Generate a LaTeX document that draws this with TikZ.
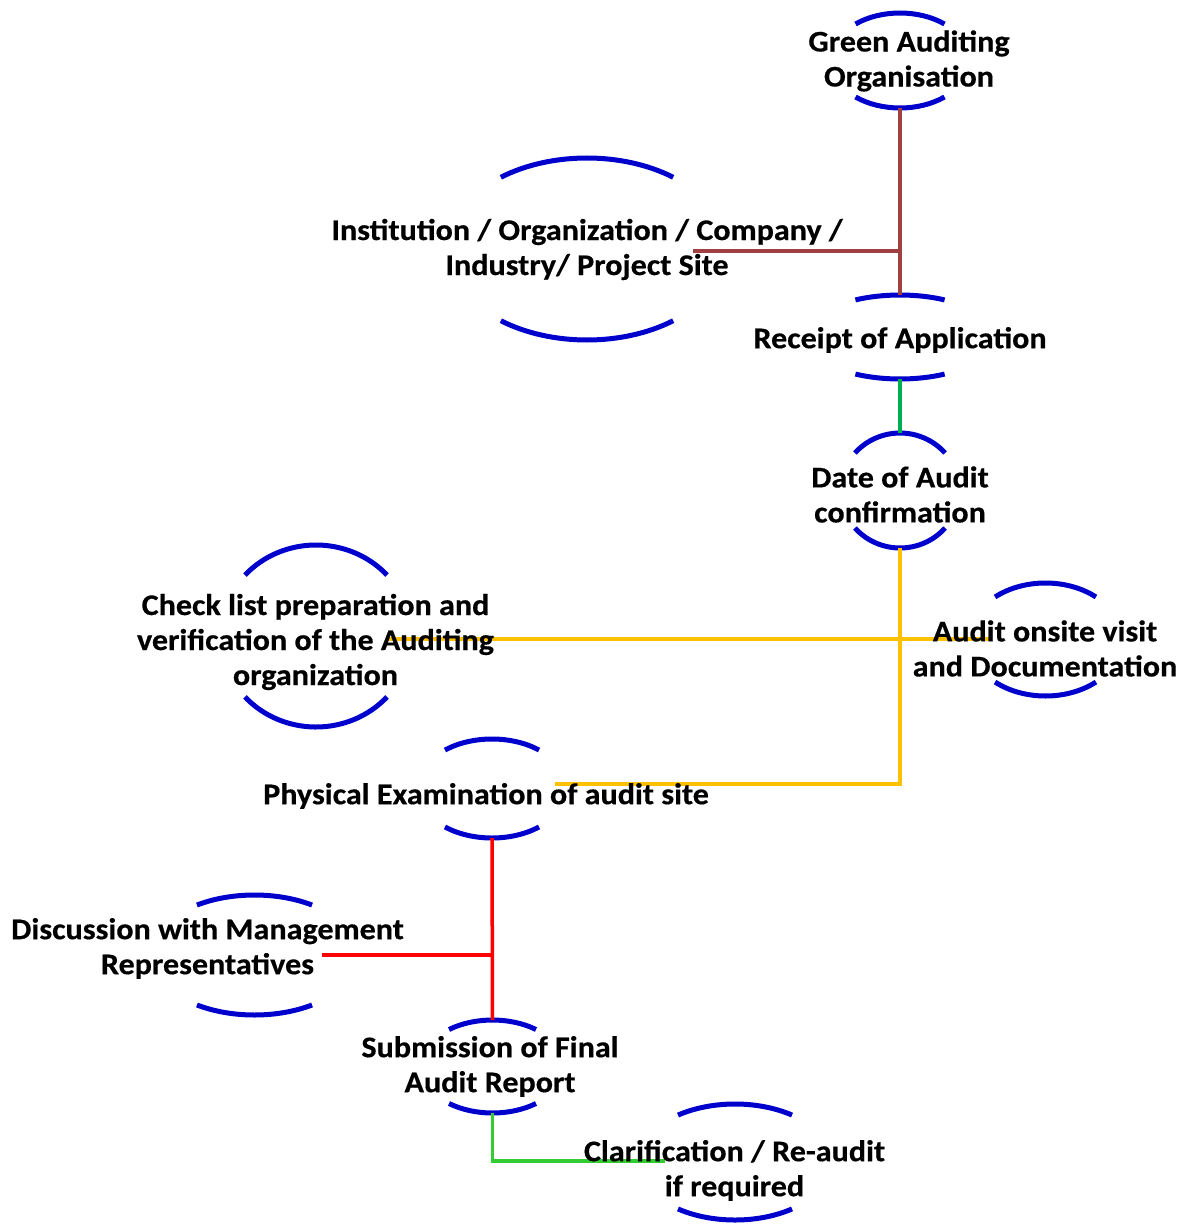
\documentclass[tikz,border=0pt]{standalone}
\usepackage{fontspec}
\setmainfont{Carlito}[FakeStretch=1.07, BoldFeatures={FakeBold=0.5}]
\usetikzlibrary{calc}
\definecolor{arcblue}{HTML}{0000CC}
\definecolor{cbrown}{HTML}{A04040}
\definecolor{cgreen}{HTML}{00B050}
\definecolor{corange}{HTML}{FFC000}
\definecolor{cred}{HTML}{FF0000}
\definecolor{clgreen}{HTML}{33CC33}
% #1 name, #2 x, #3 y, #4 x radius, #5 y radius, #6 arc half-angle from horizontal
\newcommand\ovl[6]{%
  \coordinate (#1c) at (#2,#3);
  \draw[arcst] (#1c) ++(#6:#4pt and #5pt) arc[start angle=#6, end angle=180-#6, x radius=#4pt, y radius=#5pt];
  \draw[arcst] (#1c) ++(-#6:#4pt and #5pt) arc[start angle=-#6, end angle=-180+#6, x radius=#4pt, y radius=#5pt];
  \path (#1c) ++(0pt,#5pt) coordinate (#1T);
  \path (#1c) ++(0pt,-#5pt) coordinate (#1B);
}
\begin{document}
\begin{tikzpicture}[x=1pt,y=-1pt,
  lbl/.style={font=\bfseries\fontsize{30}{35}\selectfont, align=center, inner sep=0pt},
  arcst/.style={draw=arcblue, line width=5pt},
  conn/.style={line width=3.5pt}]
\useasboundingbox (0,0) rectangle (1187,1225);
% arcs
\ovl{ga}{900}{60.5}{69.5}{47.5}{50.2}
\ovl{in}{587}{249}{140}{91}{52}
\ovl{ra}{900}{337}{95}{42}{62}
\ovl{da}{900}{490.5}{59.4}{57.5}{40.7}
\ovl{cl}{316}{636}{95.6}{91}{42}
\ovl{ao}{1045.5}{639.5}{76.6}{56.5}{48.8}
\ovl{pe}{492}{788.5}{74.7}{49.5}{51}
\ovl{dm}{254.5}{955}{104}{60}{56.4}
\ovl{sf}{492.5}{1066.5}{71.8}{46.5}{52.7}
\ovl{cr}{735}{1162}{97}{58}{54}
% connector free ends
\coordinate (inR) at (693,251);
\coordinate (clR) at (387,639);
\coordinate (aoL) at (990,639);
\coordinate (peR) at (555,784);
\coordinate (dmR) at (322,955);
\coordinate (crL) at (665,1161);
% connectors
\draw[conn, cbrown] (gaB) -- (raT);
\draw[conn, cbrown] (inR) -- (inR -| gaB);
\draw[conn, cgreen] (raB) -- (daT);
\draw[conn, corange] (daB) |- (peR);
\draw[conn, corange] (clR) -- (aoL);
\draw[conn, cred] (peB) -- (sfT);
\draw[conn, cred] (dmR) -- (dmR -| peB);
\draw[conn, clgreen] (sfB) |- (crL);
% labels
\node[lbl] (ga) at (909,61) {Green Auditing\\Organisation};
\node[lbl] (in) at (587,249.5) {Institution / Organization / Company /\\Industry/ Project Site};
\node[lbl] (ra) at (900,340) {Receipt of Application};
\node[lbl] (da) at (900,494.5) {Date of Audit\\confirmation};
\node[lbl] (cl) at (315.5,642) {Check list preparation and\\verification of the Auditing\\organization};
\node[lbl] (ao) at (1045,648.5) {Audit onsite visit\\and Documentation};
\node[lbl] (pe) at (486,796) {Physical Examination of audit site};
\node[lbl] (dm) at (207.5,948.5) {Discussion with Management\\Representatives};
\node[lbl] (sf) at (490,1066.5) {Submission of Final\\Audit Report};
\node[lbl] (cr) at (734.5,1170.5) {Clarification / Re-audit\\if required};
\end{tikzpicture}
\end{document}
